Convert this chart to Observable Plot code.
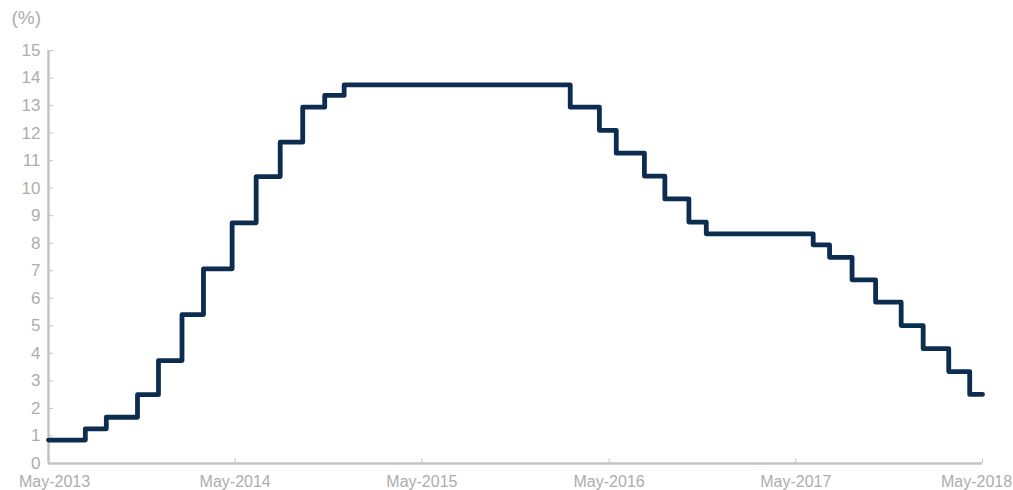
<!DOCTYPE html>
<html><head><meta charset="utf-8">
<script src="https://cdn.jsdelivr.net/npm/d3@7"></script>
<script src="https://cdn.jsdelivr.net/npm/@observablehq/plot@0.6"></script>
<style>body{margin:0;background:#fff}</style>
</head><body><div id="chart"></div>
<script>
const changeDates = ["2013-05-01","2013-07-12","2013-08-22","2013-10-22","2013-12-02","2014-01-17","2014-02-28","2014-04-25","2014-06-11","2014-07-28","2014-09-10","2014-10-23","2014-11-30","2016-02-15","2016-04-12","2016-05-15","2016-07-09","2016-08-18","2016-10-04","2016-11-07","2017-06-04","2017-07-06","2017-08-19","2017-10-04","2017-11-23","2018-01-05","2018-02-24","2018-04-06","2018-05-01"];
const rates = [0.85,1.26,1.68,2.50,3.74,5.41,7.07,8.74,10.42,11.67,12.94,13.37,13.75,12.94,12.10,11.27,10.44,9.61,8.77,8.34,7.94,7.49,6.67,5.86,5.01,4.17,3.34,2.51,2.51];
const xTickDates = ["2013-05-01","2014-05-01","2015-05-01","2016-05-01","2017-05-01","2018-05-01"];
const yTickValues = [0,1,2,3,4,5,6,7,8,9,10,11,12,13,14,15];
const unitLabel = "(%)";

const data = changeDates.map((d, i) => ({date: new Date(d), value: rates[i]}));
const xTicks = xTickDates.map(d => new Date(d));
const fmt = d3.utcFormat("%b-%Y");
const axisColor = "#c3c3c3";
const textColor = "#adadad";
const n = xTicks.length;

const chart = Plot.plot({
  width: 1013,
  height: 490,
  marginLeft: 48,
  marginRight: 31,
  marginTop: 50,
  marginBottom: 27,
  style: {fontFamily: "'Liberation Sans', Arial, sans-serif", fontSize: "17px", color: textColor, background: "#fff"},
  x: {type: "utc", domain: [xTicks[0], xTicks[n - 1]], axis: null},
  y: {domain: [0, 15], axis: null},
  marks: [
    Plot.axisY({ticks: yTickValues, tickSize: 0, tickPadding: 8, fill: textColor, label: null, fontSize: 17}),
    Plot.text(xTicks.slice(0, 1), {x: d => d, y: 0, text: fmt, dy: 18, dx: 6, fill: textColor, fontSize: 16}),
    Plot.text(xTicks.slice(1, n - 1), {x: d => d, y: 0, text: fmt, dy: 18, fill: textColor, fontSize: 16}),
    Plot.text(xTicks.slice(n - 1), {x: d => d, y: 0, text: fmt, dy: 18, dx: -6, fill: textColor, fontSize: 16}),
    Plot.ruleX(xTicks, {y1: 0, y2: 0.16, stroke: axisColor, strokeWidth: 1}),
    Plot.ruleY(yTickValues, {x1: xTicks[0], x2: new Date("2013-05-11"), stroke: axisColor, strokeWidth: 1}),
    Plot.ruleY([0], {stroke: axisColor, strokeWidth: 2.5}),
    Plot.ruleX([xTicks[0]], {stroke: axisColor, strokeWidth: 2.5}),
    Plot.line(data, {x: "date", y: "value", curve: "step-after", stroke: "#0c2c50", strokeWidth: 4.8}),
    Plot.text([unitLabel], {frameAnchor: "top-left", dx: -37, dy: -27, fill: textColor, textAnchor: "start", lineAnchor: "bottom", fontSize: 19})
  ]
});
document.getElementById("chart").append(chart);
</script>
</body></html>
